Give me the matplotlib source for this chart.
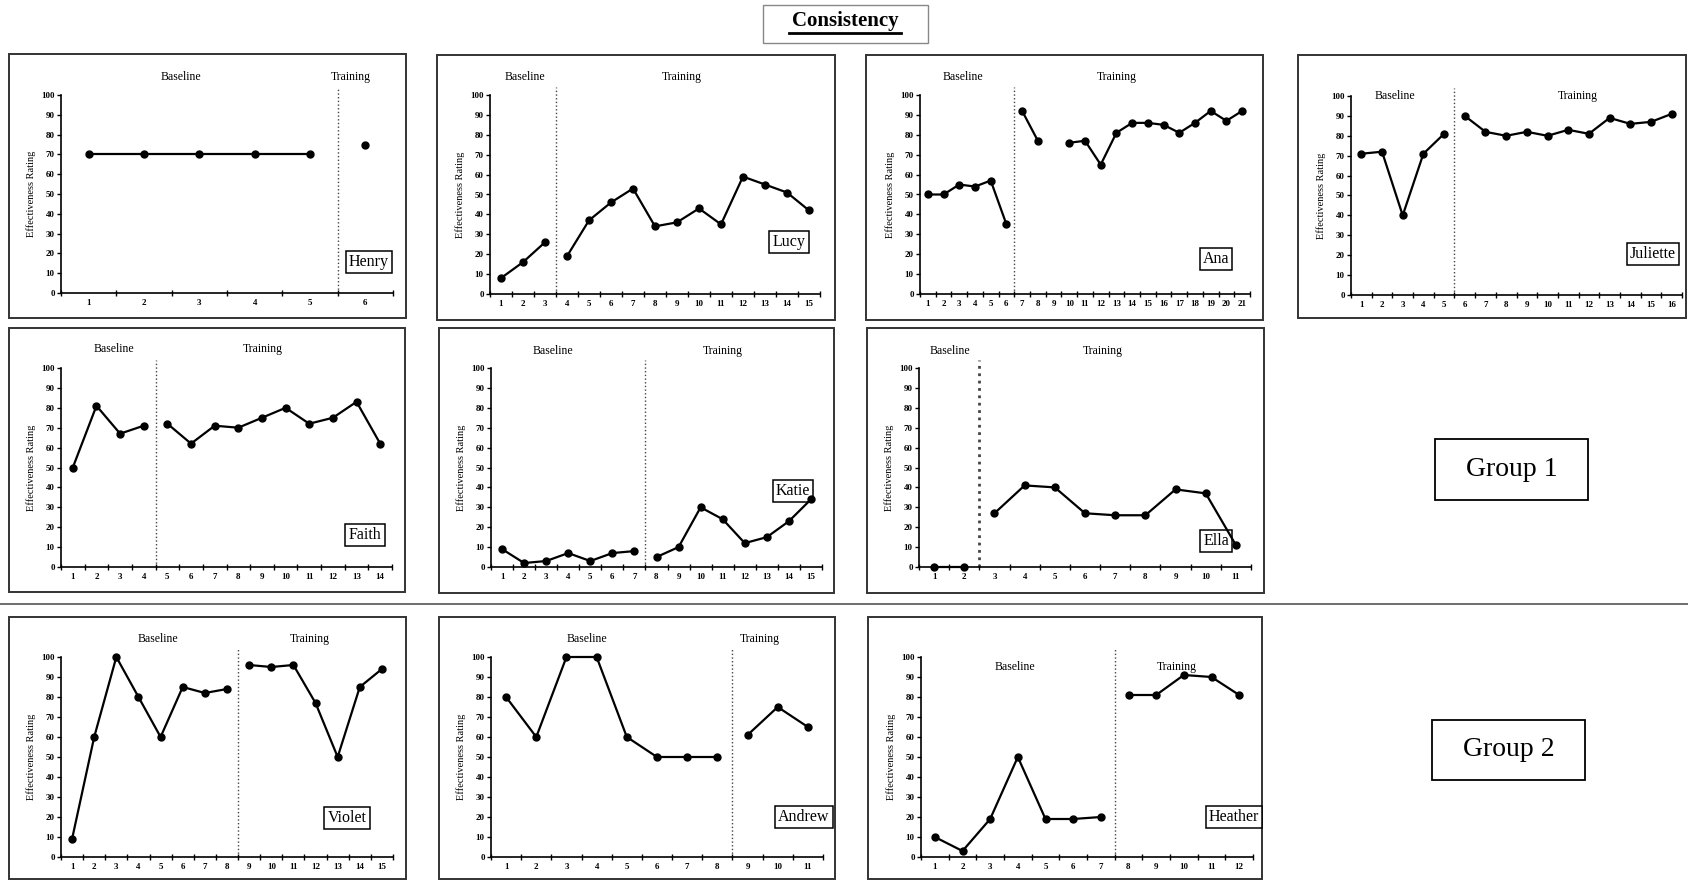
import numpy as np
import matplotlib
matplotlib.use("Agg")
import matplotlib.pyplot as plt
from matplotlib.patches import Rectangle

plt.rcParams['font.family'] = ['Liberation Serif', 'DejaVu Serif']

W, H = 1688, 880

# data (effectiveness rating per session)
henry_baseline = [70, 70, 70, 70, 70]
henry_training = [75]
lucy_baseline = [8, 16, 26]
lucy_training = [19, 37, 46, 53, 34, 36, 43, 35, 59, 55, 51, 42]
ana_baseline = [50, 50, 55, 54, 57, 35]
ana_training = [92, 77, np.nan, 76, 77, 65, 81, 86, 86, 85, 81, 86, 92, 87, 92]
juliette_baseline = [71, 72, 40, 71, 81]
juliette_training = [90, 82, 80, 82, 80, 83, 81, 89, 86, 87, 91]
faith_baseline = [50, 81, 67, 71]
faith_training = [72, 62, 71, 70, 75, 80, 72, 75, 83, 62]
katie_baseline = [9, 2, 3, 7, 3, 7, 8]
katie_training = [5, 10, 30, 24, 12, 15, 23, 34]
ella_baseline = [0, 0]
ella_training = [27, 41, 40, 27, 26, 26, 39, 37, 11]
violet_baseline = [9, 60, 100, 80, 60, 85, 82, 84]
violet_training = [96, 95, 96, 77, 50, 85, 94]
andrew_baseline = [80, 60, 100, 100, 60, 50, 50, 50]
andrew_training = [61, 75, 65]
heather_baseline = [10, 3, 19, 50, 19, 19, 20]
heather_training = [81, 81, 91, 90, 81]

names = ["Henry", "Lucy", "Ana", "Juliette", "Faith", "Katie", "Ella",
         "Violet", "Andrew", "Heather"]
baselines = [henry_baseline, lucy_baseline, ana_baseline, juliette_baseline,
             faith_baseline, katie_baseline, ella_baseline, violet_baseline,
             andrew_baseline, heather_baseline]
trainings = [henry_training, lucy_training, ana_training, juliette_training,
             faith_training, katie_training, ella_training, violet_training,
             andrew_training, heather_training]

# layout in pixels: panel box, axes (x at y-axis, y of 0, y of 100, right end),
# phase label centres, name box centre
boxes = [(9, 54, 406, 318), (437, 55, 835, 320), (866, 55, 1263, 320), (1298, 55, 1686, 318),
         (9, 328, 405, 592), (439, 328, 834, 593), (867, 328, 1264, 593),
         (9, 617, 406, 879), (439, 617, 835, 879), (868, 617, 1262, 879)]
axpos = [(61, 293, 95, 393), (490, 294, 95, 820), (920, 294, 95, 1250), (1351, 295, 96, 1682),
         (61, 567, 368, 392), (491, 567, 368, 822), (919, 567, 368, 1251),
         (61, 857, 657, 393), (491, 857, 657, 823), (921, 857, 657, 1253)]
phase_lbl = [((181, 77), (351, 77)), ((525, 77), (682, 77)), ((963, 77), (1117, 77)),
             ((1395, 96), (1578, 96)), ((114, 349), (263, 349)), ((553, 351), (723, 351)),
             ((950, 351), (1103, 351)), ((158, 639), (310, 639)), ((587, 639), (760, 639)),
             ((1015, 667), (1177, 667))]
name_pos = [(369, 262), (789, 242), (1216, 259), (1653, 254), (365, 535), (793, 491),
            (1216, 541), (347, 818), (804, 817), (1234, 817)]

fig = plt.figure(figsize=(W / 100, H / 100), dpi=100)
bg = fig.add_axes([0, 0, 1, 1])
bg.set_xlim(0, W)
bg.set_ylim(H, 0)
bg.axis('off')

# title
bg.add_patch(Rectangle((763, 5), 165, 38, fill=False, ec='#888888', lw=1))
bg.text(845, 21, "Consistency", ha='center', va='center', fontsize=15, fontweight='bold')
bg.plot([789, 901], [33, 33], color='black', lw=2)

# separator between groups
bg.plot([0, W], [604, 604], color='#555555', lw=1.2)

# group labels
for txt, (gl, gt, gr, gb) in [("Group 1", (1435, 439, 1588, 500)),
                              ("Group 2", (1432, 720, 1585, 780))]:
    bg.add_patch(Rectangle((gl, gt), gr - gl, gb - gt, fill=False, ec='black', lw=1.3))
    bg.text((gl + gr) / 2, (gt + gb) / 2, txt, ha='center', va='center', fontsize=20)

for i, name in enumerate(names):
    l, t, r, b = boxes[i]
    bg.add_patch(Rectangle((l, t), r - l, b - t, fill=False, ec='#333333', lw=1.4))

    x0, y0, y100, xr = axpos[i]
    ax = fig.add_axes([x0 / W, 1 - y0 / H, (xr - x0) / W, (y0 - y100) / H])
    ax.set_facecolor('none')

    base = baselines[i]
    train = trainings[i]
    nb, nt = len(base), len(train)
    n = nb + nt
    xb = np.arange(1, nb + 1)
    xt = np.arange(nb + 1, n + 1)

    ax.plot(xb, base, '-o', color='black', lw=1.6, ms=5, clip_on=False, zorder=3)
    ax.plot(xt, train, '-o', color='black', lw=1.6, ms=5, clip_on=False, zorder=3)

    # phase change line
    lw_phase = 2.0 if name == "Ella" else 1.0
    ax.plot([nb + 0.5, nb + 0.5], [0, 104], color='#444444', ls=':', lw=lw_phase, clip_on=False)

    ax.set_xlim(0.5, n + 0.5)
    ax.set_ylim(0, 100)
    ax.set_yticks(np.arange(0, 101, 10))
    ax.set_xticks(np.arange(0.5, n + 1, 1))
    ax.set_xticklabels([])
    ax.set_xticks(np.arange(1, n + 1), minor=True)
    ax.set_xticklabels([str(k) for k in range(1, n + 1)], minor=True)
    ax.tick_params(axis='x', which='major', direction='inout', length=4, width=1)
    ax.tick_params(axis='x', which='minor', length=0, pad=4, labelsize=6.5)
    ax.tick_params(axis='y', direction='out', length=3, width=1, pad=1.5, labelsize=6.5)
    for lab in ax.get_xticklabels(minor=True) + ax.get_yticklabels():
        lab.set_fontweight('bold')
    for s in ['top', 'right']:
        ax.spines[s].set_visible(False)
    for s in ['left', 'bottom']:
        ax.spines[s].set_linewidth(1.2)

    bg.text(x0 - 30, (y0 + y100) / 2, "Effectiveness Rating", rotation=90,
            ha='center', va='center', fontsize=7.5)
    (bx, by), (tx, ty) = phase_lbl[i]
    bg.text(bx, by, "Baseline", ha='center', va='center', fontsize=8.5)
    bg.text(tx, ty, "Training", ha='center', va='center', fontsize=8.5)
    nx, ny = name_pos[i]
    bg.text(nx, ny, name, ha='center', va='center', fontsize=11.5, zorder=5,
            bbox=dict(boxstyle='square,pad=0.2', fc='white', ec='black', lw=1.1))

fig.savefig("out.png", dpi=100)
